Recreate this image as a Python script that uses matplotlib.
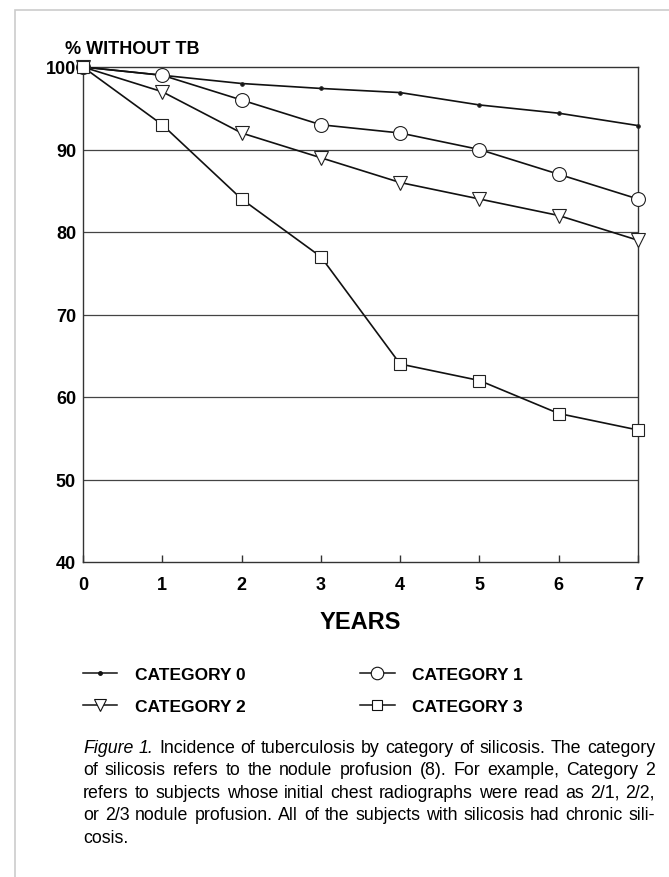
import matplotlib

matplotlib.use("Agg")
import matplotlib.pyplot as plt
from matplotlib.patches import Rectangle
from matplotlib.lines import Line2D

years = [0, 1, 2, 3, 4, 5, 6, 7]
cat0 = [100, 99, 98, 97.4, 96.9, 95.4, 94.4, 92.9]
cat1 = [100, 99, 96, 93, 92, 90, 87, 84]
cat2 = [100, 97, 92, 89, 86, 84, 82, 79]
cat3 = [100, 93, 84, 77, 64, 62, 58, 56]
labels = ["CATEGORY 0", "CATEGORY 1", "CATEGORY 2", "CATEGORY 3"]
y_ticks = [40, 50, 60, 70, 80, 90, 100]

caption_lines = [
    [("Figure 1.", "italic"), ("Incidence of tuberculosis by category of silicosis. The category", "normal")],
    [("of silicosis refers to the nodule profusion (8). For example, Category 2", "normal")],
    [("refers to subjects whose initial chest radiographs were read as 2/1, 2/2,", "normal")],
    [("or 2/3 nodule profusion. All of the subjects with silicosis had chronic sili-", "normal")],
    [("cosis.", "normal")],
]

plt.rcParams["font.family"] = ["Liberation Sans", "DejaVu Sans"]

W, H = 669, 878
fig = plt.figure(figsize=(W / 100, H / 100), dpi=100)

# grey page frame
fig.patches.append(Rectangle((15 / W, -0.01), 1.0, 1 - 11 / H + 0.01, transform=fig.transFigure,
                             fill=False, edgecolor="#cccccc", linewidth=1.2))

ax = fig.add_axes([83 / W, 1 - 563 / H, (638 - 83) / W, (563 - 68) / H])
ax.set_xlim(0, 7)
ax.set_ylim(40, 100)

kw = dict(color="#111111", linewidth=1.2, markeredgecolor="#222222",
          markeredgewidth=0.8, clip_on=False, zorder=3)
ax.plot(years, cat0, marker="o", markersize=2.5, markerfacecolor="#111111", **kw)
ax.plot(years, cat1, marker="o", markersize=10, markerfacecolor="white", **kw)
ax.plot(years, cat2, marker="v", markersize=10, markerfacecolor="white", **kw)
ax.plot(years, cat3, marker="s", markersize=9, markerfacecolor="white", **kw)

for v in y_ticks[1:-1]:
    ax.axhline(v, color="#444444", linewidth=0.9, zorder=1)

for s in ax.spines.values():
    s.set_color("#333333")
    s.set_linewidth(1.0)

ax.set_xticks(years)
ax.set_yticks(y_ticks)
ax.tick_params(axis="x", direction="in", length=5, width=1, color="#333333", pad=10,
               labelsize=13)
ax.tick_params(axis="y", length=0, pad=5, labelsize=13)
for t in ax.get_xticklabels() + ax.get_yticklabels():
    t.set_fontweight("bold")

ax.set_xlabel("YEARS", fontsize=17, fontweight="bold", labelpad=12)
fig.text(65 / W, 1 - 50 / H, "% WITHOUT TB", fontsize=13, fontweight="bold", va="center", ha="left")

# legend (row order: 0, 1 / 2, 3)
handles = [
    Line2D([], [], color="#111111", lw=1.1, marker="o", markersize=2.5, markerfacecolor="#111111"),
    Line2D([], [], color="#111111", lw=1.1, marker="o", markersize=9, markerfacecolor="white", markeredgewidth=0.8),
    Line2D([], [], color="#111111", lw=1.1, marker="v", markersize=9, markerfacecolor="white", markeredgewidth=0.8),
    Line2D([], [], color="#111111", lw=1.1, marker="s", markersize=7, markerfacecolor="white", markeredgewidth=0.8),
]
order = [0, 2, 1, 3]
leg = fig.legend([handles[i] for i in order], [labels[i] for i in order], ncol=2, loc="upper left",
                 bbox_to_anchor=(67 / W, 1 - 652 / H), frameon=False, handlelength=2.0,
                 handletextpad=1.0, columnspacing=6.6, labelspacing=1.0,
                 prop={"size": 12.5, "weight": "bold"})

# justified caption
fig.canvas.draw()
renderer = fig.canvas.get_renderer()
x_left, x_right = 83, 655
baseline = 753
size = 12.8
for i, line in enumerate(caption_lines):
    words = []
    for text, style in line:
        for w in text.split(" "):
            words.append((w, style))
    widths = []
    arts = []
    for w, style in words:
        t = fig.text(0, 0, w, fontsize=size, fontstyle=style, va="baseline", ha="left")
        widths.append(t.get_window_extent(renderer).width)
        arts.append(t)
    last = i == len(caption_lines) - 1
    if last:
        gap = 4
    else:
        gap = (x_right - x_left - sum(widths)) / (len(words) - 1)
    x = x_left
    for t, wd in zip(arts, widths):
        t.set_position((x / W, 1 - baseline / H))
        x += wd + gap
    baseline += 22.5

fig.savefig("out.png", dpi=100)
